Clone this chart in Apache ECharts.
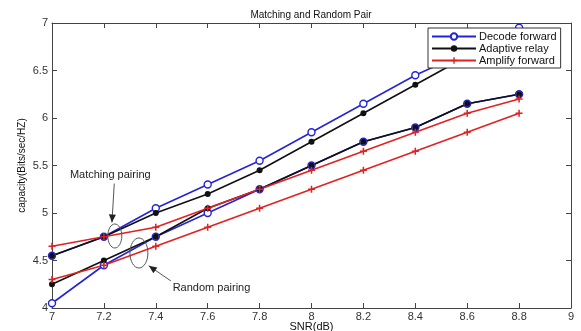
<!DOCTYPE html>
<html>
<head>
<meta charset="utf-8">
<script src="https://cdn.jsdelivr.net/npm/echarts@6/dist/echarts.min.js"></script>
<style>html,body{margin:0;padding:0;background:#fff}#c{width:581px;height:331px}</style>
</head>
<body>
<div id="c"></div>
<script>
var snr = [7, 7.2, 7.4, 7.6, 7.8, 8, 8.2, 8.4, 8.6, 8.8];
var decodeMatching   = [4.55, 4.75, 5.05, 5.30, 5.55, 5.85, 6.15, 6.45, 6.70, 6.95];
var decodeRandom     = [4.05, 4.45, 4.75, 5.00, 5.25, 5.50, 5.75, 5.90, 6.15, 6.25];
var adaptiveMatching = [4.55, 4.75, 5.00, 5.20, 5.45, 5.75, 6.05, 6.35, 6.65, 6.90];
var adaptiveRandom   = [4.25, 4.50, 4.75, 5.05, 5.25, 5.50, 5.75, 5.90, 6.15, 6.25];
var amplifyMatching  = [4.65, 4.75, 4.85, 5.05, 5.25, 5.45, 5.65, 5.85, 6.05, 6.20];
var amplifyRandom    = [4.30, 4.45, 4.65, 4.85, 5.05, 5.25, 5.45, 5.65, 5.85, 6.05];
var seriesNames = ['Decode forward', 'Adaptive relay', 'Amplify forward'];
var titleText = 'Matching and Random Pair';
var xName = 'SNR(dB)';
var yName = 'capacity(Bits/sec/HZ)';

var BLUE = '#2424d8', BLACK = '#111111', RED = '#e02222';
var PLUS = 'path://M-0.22,-1H0.22V-0.22H1V0.22H0.22V1H-0.22V0.22H-1V-0.22H-0.22Z';
function pairs(arr){ return arr.map(function(v,i){ return [snr[i], v]; }); }
function mk(name, data, color, symbol, size, fill){
  return {
    type:'line', name:name, data:pairs(data), animation:false,
    symbol:symbol, symbolSize:size, showAllSymbol:true,
    lineStyle:{color:color, width:1.6},
    itemStyle:{color: fill, borderColor: color, borderWidth: symbol==='circle' && fill==='#fff' ? 1.4 : 0},
    emphasis:{disabled:true}
  };
}
var chart = echarts.init(document.getElementById('c'), null, {renderer:'canvas'});
var axisCol = '#444';
var font = 'Liberation Sans, Arial, sans-serif';
chart.setOption({
  backgroundColor:'#fff',
  animation:false,
  title:{text:titleText, left:311, top:10, padding:0, textAlign:'center',
    textStyle:{fontFamily:font, fontSize:10, fontWeight:'normal', color:'#111'}},
  legend:{
    data:seriesNames, orient:'vertical', left:428, top:28,
    backgroundColor:'#fff', borderColor:'#333', borderWidth:1,
    padding:[3,4,2,3], itemGap:1, itemWidth:44, itemHeight:8,
    textStyle:{fontFamily:font, fontSize:11, color:'#111', lineHeight:9, padding:[0,0,0,-2]}
  },
  grid:{left:52, right:10, top:23, bottom:23, outerBoundsMode:'none', containLabel:false},
  xAxis:[{
    type:'value', min:7, max:9, interval:0.2, position:'bottom',
    name:xName, nameLocation:'middle', nameGap:13, nameMoveOverlap:false,
    nameTextStyle:{fontFamily:font, fontSize:11, color:'#111'},
    axisLine:{lineStyle:{color:axisCol}}, axisTick:{inside:true, length:5, lineStyle:{color:axisCol}},
    axisLabel:{fontFamily:font, fontSize:11, color:'#333', margin:3}, splitLine:{show:false}
  },{
    type:'value', min:7, max:9, interval:0.2, position:'top',
    axisLine:{show:true, lineStyle:{color:axisCol}}, axisTick:{inside:true, length:5, lineStyle:{color:axisCol}},
    axisLabel:{show:false}, splitLine:{show:false}
  }],
  yAxis:[{
    type:'value', min:4, max:7, interval:0.5, position:'left',
    name:yName, nameLocation:'middle', nameGap:25, nameRotate:90, nameMoveOverlap:false,
    nameTextStyle:{fontFamily:font, fontSize:10, color:'#111'},
    axisLine:{show:true, lineStyle:{color:axisCol}}, axisTick:{show:true, inside:true, length:5, lineStyle:{color:axisCol}},
    axisLabel:{fontFamily:font, fontSize:11, color:'#333', margin:4}, splitLine:{show:false}
  },{
    type:'value', min:4, max:7, interval:0.5, position:'right',
    axisLine:{show:true, lineStyle:{color:axisCol}}, axisTick:{show:true, inside:true, length:5, lineStyle:{color:axisCol}},
    axisLabel:{show:false}, splitLine:{show:false}
  }],
  series:[
    mk(seriesNames[0], decodeMatching, BLUE, 'circle', 7, '#fff'),
    mk(seriesNames[0], decodeRandom, BLUE, 'circle', 7, '#fff'),
    mk(seriesNames[1], adaptiveMatching, BLACK, 'circle', 6, BLACK),
    mk(seriesNames[1], adaptiveRandom, BLACK, 'circle', 6, BLACK),
    mk(seriesNames[2], amplifyMatching, RED, PLUS, 7, RED),
    mk(seriesNames[2], amplifyRandom, RED, PLUS, 7, RED)
  ]
});

// annotations placed in data coordinates
var annMatch = {text:'Matching pairing', tx:7.069, ty:5.39, from:[7.240, 5.31], to:[7.231, 4.90], ell:[7.242, 4.758], rx:7, ry:12};
var annRandom = {text:'Random pairing', tx:7.465, ty:4.21, from:[7.458, 4.285], to:[7.373, 4.445], ell:[7.335, 4.579], rx:9, ry:15};
function px(p){ return chart.convertToPixel({xAxisIndex:0, yAxisIndex:0}, p); }
var g = [];
[annMatch, annRandom].forEach(function(a){
  var t = px([a.tx, a.ty]);
  g.push({type:'text', left:t[0], top:t[1]-6, z:100,
    style:{text:a.text, fontFamily:font, fontSize:11, fill:'#222'}});
  var f = px(a.from), e = px(a.to);
  g.push({type:'line', z:100, shape:{x1:f[0], y1:f[1], x2:e[0], y2:e[1]},
    style:{stroke:'#555', lineWidth:1}});
  var ang = Math.atan2(e[1]-f[1], e[0]-f[0]), L = 8, W = 3.5;
  var bx = e[0]-L*Math.cos(ang), by = e[1]-L*Math.sin(ang);
  g.push({type:'polygon', z:100, shape:{points:[[e[0],e[1]],
    [bx+W*Math.sin(ang), by-W*Math.cos(ang)], [bx-W*Math.sin(ang), by+W*Math.cos(ang)]]},
    style:{fill:'#222'}});
  var c = px(a.ell);
  g.push({type:'ellipse', z:100, shape:{cx:c[0], cy:c[1], rx:a.rx, ry:a.ry},
    style:{fill:null, stroke:'#555', lineWidth:1}});
});
chart.setOption({graphic:g});
</script>
</body>
</html>
